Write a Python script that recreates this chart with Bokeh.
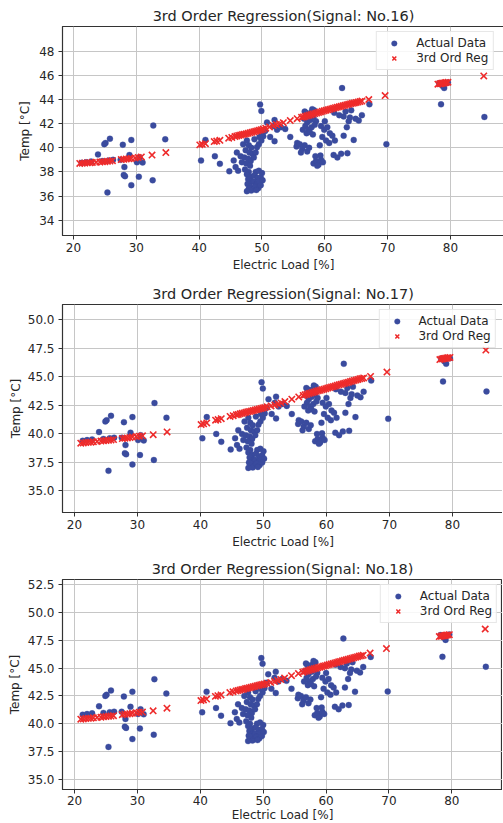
from bokeh.plotting import figure
from bokeh.layouts import column
from bokeh.models import Range1d, FixedTicker, PrintfTickFormatter
from bokeh.embed import file_html
from bokeh.resources import INLINE

# ---------------- data ----------------
load = [21.3, 22.0, 22.8, 23.9, 24.9, 25.1, 25.8, 25.4, 24.6, 25.6,
        26.3, 27.85, 28.1, 28.0, 28.2, 28.9, 29.2, 29.2, 30.1, 31.0,
        30.4, 32.6, 32.7, 34.6, 27.5, 30.5,
        40.3, 41.0, 42.5, 43.3, 44.8, 45.5, 45.8, 46.2, 46.0, 46.6,
        47.0, 47.6, 47.9, 48.3, 47.4, 48.0, 48.5, 47.2, 47.8, 48.2,
        46.8, 47.5, 48.1, 47.3, 47.9, 47.6, 48.2, 47.8, 48.4, 47.7,
        48.1, 47.9, 48.3, 47.6,
        49.0, 49.5, 50.0, 48.8, 49.3, 49.8, 48.7, 49.2, 49.6, 50.1,
        48.9, 49.4, 49.8, 49.1, 49.0, 49.2, 49.5, 49.9, 50.2, 50.0,
        48.7, 49.7, 49.9, 50.8, 51.3, 52.0, 52.0, 52.4, 53.0, 53.7,
        54.5, 55.6, 50.5,
        56.8, 57.3, 57.8, 58.3, 56.7, 57.2, 57.7, 58.2, 58.6, 56.9,
        57.4, 57.9, 58.4, 57.1, 57.6, 58.1, 55.5, 56.0, 56.4, 56.8,
        57.2, 57.5, 56.2, 58.2, 58.6, 59.0, 59.4, 58.8, 59.7, 59.3,
        58.5, 59.4, 59.9, 60.4, 60.8, 59.6, 60.2, 60.7, 59.2, 61.2,
        61.6, 60.0, 61.4, 62.0, 62.6, 63.0, 63.5, 64.6, 62.75, 64.2,
        64.9, 65.4, 65.9, 67.1, 69.8, 63.0, 63.8, 61.5, 62.3, 64.0,
        78.2, 78.7, 79.0, 78.5, 85.4, 79.6,
        63.6, 63.3, 57.0, 58.0, 56.5, 48.8, 49.6, 51.8]

temp16 = [38.75, 38.80, 38.86, 39.45, 40.30, 40.40, 40.75, 36.30, 38.90, 38.95,
          39.00, 40.25, 38.40, 37.75, 37.65, 39.40, 40.65, 36.90, 38.80, 38.78,
          37.60, 37.30, 41.84, 40.70, 39.00, 39.20,
          38.94, 40.65, 39.30, 38.67, 38.05, 38.95, 38.40, 38.10, 39.60, 39.30,
          40.30, 40.60, 40.20, 40.00, 39.80, 39.60, 39.50, 39.20, 39.10, 38.90,
          38.80, 38.70, 38.50, 38.20, 38.00, 37.80, 37.60, 37.40, 37.20, 37.00,
          36.80, 36.60, 36.45, 36.40,
          38.00, 38.10, 37.90, 37.70, 37.50, 37.55, 37.20, 37.00, 37.20, 37.30,
          36.80, 36.65, 36.90, 36.50, 39.60, 40.05, 40.30, 40.60, 40.95, 41.15,
          39.20, 43.58, 43.05, 42.10, 40.90, 40.55, 42.30, 41.50, 41.70, 41.55,
          40.90, 40.40, 41.40,
          43.00, 42.70, 42.90, 43.10, 42.40, 42.10, 42.30, 42.50, 42.20, 41.80,
          41.50, 41.70, 41.90, 41.20, 41.30, 41.10, 40.10, 40.30, 39.90, 40.20,
          39.70, 40.00, 39.60, 38.70, 38.90, 38.60, 39.00, 38.50, 38.80, 39.35,
          39.30, 41.80, 41.50, 41.70, 41.20, 40.90, 40.60, 40.40, 40.20, 41.00,
          40.60, 42.20, 39.40, 39.20, 39.50, 41.00, 41.70, 40.65, 44.95, 43.10,
          42.40, 42.25, 42.70, 43.60, 40.30, 42.60, 42.20, 42.90, 42.70, 42.50,
          45.35, 45.15, 44.95, 43.60, 42.55, 45.40,
          39.55, 43.00, 42.90, 43.20, 41.50, 40.70, 40.90, 41.80]

temp17 = [39.38, 39.44, 39.50, 40.14, 41.07, 41.18, 41.56, 36.75, 39.54, 39.60,
          39.65, 41.01, 39.00, 38.29, 38.19, 40.09, 41.45, 37.30, 39.44, 39.41,
          38.13, 37.70, 42.68, 41.40, 39.65, 39.87,
          39.59, 41.45, 39.98, 39.29, 38.62, 39.60, 39.00, 38.68, 40.31, 39.98,
          41.07, 41.39, 40.96, 40.74, 40.52, 40.31, 40.20, 39.87, 39.76, 39.54,
          39.44, 39.33, 39.11, 38.78, 38.57, 38.35, 38.13, 37.91, 37.70, 37.48,
          37.40, 37.20, 37.05, 37.00,
          38.57, 38.68, 38.46, 38.24, 38.02, 38.08, 37.70, 37.48, 37.70, 37.81,
          37.40, 37.25, 37.47, 37.09, 40.31, 40.79, 41.07, 41.39, 41.77, 41.99,
          39.87, 44.50, 43.95, 43.02, 41.72, 41.34, 43.24, 42.37, 42.59, 42.43,
          41.72, 41.18, 42.26,
          44.00, 43.68, 43.89, 44.11, 43.35, 43.02, 43.24, 43.46, 43.13, 42.70,
          42.37, 42.59, 42.81, 42.04, 42.15, 41.94, 40.85, 41.07, 40.63, 40.96,
          40.41, 40.74, 40.31, 39.33, 39.54, 39.22, 39.65, 39.11, 39.44, 40.03,
          39.98, 42.70, 42.37, 42.59, 42.04, 41.72, 41.39, 41.18, 40.96, 41.83,
          41.39, 43.13, 40.09, 39.87, 40.20, 41.83, 42.59, 41.45, 46.12, 44.11,
          43.35, 43.19, 43.68, 44.65, 41.30, 43.57, 43.13, 43.89, 43.68, 43.46,
          46.56, 46.34, 46.12, 44.57, 43.70, 46.61,
          40.25, 44.00, 43.89, 44.22, 42.37, 41.50, 41.72, 42.70]

temp18 = [40.80, 40.86, 40.92, 41.56, 42.49, 42.60, 42.98, 37.90, 40.96, 41.02,
          41.07, 42.43, 40.42, 39.71, 39.61, 41.51, 42.87, 38.60, 40.86, 40.83,
          39.55, 39.00, 44.00, 42.70, 41.07, 41.29,
          41.01, 42.87, 41.40, 40.71, 40.04, 41.02, 40.42, 40.10, 41.73, 41.40,
          42.49, 42.81, 42.38, 42.16, 41.94, 41.73, 41.62, 41.29, 41.18, 40.96,
          40.86, 40.75, 40.53, 40.20, 39.99, 39.77, 39.55, 39.33, 39.12, 38.90,
          38.82, 38.62, 38.47, 38.42,
          39.99, 40.10, 39.88, 39.66, 39.44, 39.50, 39.12, 38.90, 39.12, 39.23,
          38.82, 38.67, 38.89, 38.51, 41.73, 42.21, 42.49, 42.81, 43.19, 43.41,
          41.29, 45.90, 45.40, 44.44, 43.14, 42.76, 44.66, 43.79, 44.01, 43.85,
          43.14, 42.60, 43.68,
          45.42, 45.10, 45.31, 45.53, 44.77, 44.44, 44.66, 44.88, 44.55, 44.12,
          43.79, 44.01, 44.23, 43.46, 43.57, 43.36, 42.27, 42.49, 42.05, 42.38,
          41.83, 42.16, 41.73, 40.75, 40.96, 40.64, 41.07, 40.53, 40.86, 41.45,
          41.40, 44.12, 43.79, 44.01, 43.46, 43.14, 42.81, 42.60, 42.38, 43.25,
          42.81, 44.55, 41.51, 41.29, 41.62, 43.25, 44.01, 42.87, 47.66, 45.53,
          44.77, 44.61, 45.10, 46.00, 42.89, 44.99, 44.55, 45.31, 45.10, 44.88,
          47.98, 47.76, 47.54, 46.01, 45.12, 48.03,
          41.67, 45.42, 45.31, 45.64, 43.79, 42.92, 43.14, 44.12]

reg_load = [21.0, 21.4, 21.8, 22.2, 22.6, 23.0, 23.6, 24.2, 24.6, 25.0,
            25.4, 25.8, 26.2, 27.6, 28.0, 28.4, 28.8, 29.2, 29.8, 30.3,
            30.8, 32.5, 34.7,
            40.1, 40.5, 41.0, 42.4, 42.8, 43.3, 44.7, 45.2, 45.7, 46.0,
            46.3, 46.6, 46.9, 47.2, 47.5, 47.8, 48.1, 48.4, 48.7, 49.0,
            49.3, 49.6, 49.9, 50.2, 50.6, 51.2, 51.8, 52.3, 52.8, 53.4,
            54.5, 55.6,
            56.3, 56.6, 56.9, 57.2, 57.5, 57.8, 58.1, 58.4, 58.7, 59.0,
            59.3, 59.6, 59.9, 60.2, 60.5, 60.8, 61.1, 61.4, 61.7, 62.0,
            62.3, 62.6, 62.9, 63.2, 63.5, 63.8, 64.1, 64.4, 64.7, 65.0,
            65.3, 65.6, 65.9, 67.0, 69.6,
            78.0, 78.3, 78.5, 78.7, 78.9, 79.1, 79.3, 79.6, 85.3]

reg16 = [38.70, 38.72, 38.73, 38.75, 38.76, 38.78, 38.80, 38.82, 38.84, 38.85,
         38.88, 38.90, 38.93, 39.02, 39.04, 39.07, 39.09, 39.12, 39.16, 39.20,
         39.24, 39.40, 39.60,
         40.24, 40.29, 40.34, 40.51, 40.56, 40.62, 40.79, 40.86, 40.93, 40.98,
         41.02, 41.05, 41.09, 41.13, 41.16, 41.20, 41.24, 41.28, 41.32, 41.37,
         41.41, 41.46, 41.50, 41.55, 41.62, 41.73, 41.84, 41.92, 41.99, 42.08,
         42.25, 42.41,
         42.52, 42.56, 42.61, 42.65, 42.70, 42.74, 42.79, 42.83, 42.88, 42.93,
         42.97, 43.02, 43.06, 43.11, 43.15, 43.19, 43.23, 43.28, 43.32, 43.36,
         43.40, 43.44, 43.48, 43.52, 43.56, 43.60, 43.64, 43.68, 43.72, 43.76,
         43.79, 43.83, 43.87, 44.00, 44.33,
         45.27, 45.30, 45.32, 45.34, 45.36, 45.38, 45.40, 45.43, 45.95]

reg17 = [39.17, 39.19, 39.22, 39.24, 39.26, 39.29, 39.32, 39.35, 39.38, 39.40,
         39.42, 39.45, 39.48, 39.57, 39.60, 39.63, 39.66, 39.70, 39.75, 39.78,
         39.81, 39.91, 40.15,
         40.80, 40.86, 40.94, 41.18, 41.24, 41.31, 41.51, 41.58, 41.65, 41.69,
         41.74, 41.78, 41.82, 41.87, 41.91, 41.95, 41.99, 42.04, 42.08, 42.12,
         42.17, 42.21, 42.25, 42.29, 42.35, 42.43, 42.52, 42.60, 42.69, 42.81,
         43.02, 43.22,
         43.35, 43.40, 43.45, 43.51, 43.56, 43.61, 43.66, 43.71, 43.76, 43.80,
         43.85, 43.90, 43.94, 43.99, 44.04, 44.09, 44.13, 44.18, 44.23, 44.28,
         44.32, 44.37, 44.42, 44.47, 44.51, 44.56, 44.61, 44.66, 44.70, 44.75,
         44.80, 44.84, 44.88, 45.01, 45.39,
         46.49, 46.53, 46.56, 46.58, 46.60, 46.63, 46.65, 46.68, 47.32]

reg18 = [40.40, 40.42, 40.45, 40.47, 40.49, 40.52, 40.55, 40.58, 40.61, 40.63,
         40.65, 40.68, 40.71, 40.80, 40.83, 40.86, 40.89, 40.93, 40.98, 41.01,
         41.04, 41.15, 41.39,
         42.07, 42.13, 42.21, 42.45, 42.51, 42.58, 42.79, 42.86, 42.93, 42.97,
         43.02, 43.06, 43.10, 43.15, 43.19, 43.23, 43.27, 43.32, 43.36, 43.40,
         43.45, 43.49, 43.53, 43.57, 43.63, 43.71, 43.80, 43.89, 43.98, 44.10,
         44.31, 44.51,
         44.63, 44.68, 44.73, 44.79, 44.84, 44.89, 44.94, 44.99, 45.04, 45.08,
         45.13, 45.18, 45.22, 45.27, 45.32, 45.37, 45.41, 45.46, 45.51, 45.56,
         45.60, 45.65, 45.70, 45.75, 45.79, 45.84, 45.89, 45.94, 45.98, 46.03,
         46.08, 46.12, 46.16, 46.35, 46.76,
         47.84, 47.87, 47.89, 47.91, 47.93, 47.96, 47.98, 48.01, 48.52]

x_ticks = [20, 30, 40, 50, 60, 70, 80]
y_ticks16 = [34, 36, 38, 40, 42, 44, 46, 48]
y_ticks17 = [35.0, 37.5, 40.0, 42.5, 45.0, 47.5, 50.0]
y_ticks18 = [35.0, 37.5, 40.0, 42.5, 45.0, 47.5, 50.0, 52.5]

FONT = "DejaVu Sans"
BLUE = "#3a4b9e"
RED = "#ee2b2b"
TXT = "#262626"


def panel(title, temps, regs, xr, yr, yticks, fmt, fw, fh,
          b_left, b_right, b_top, b_bottom, lab_so, axl_so, xlab_so, xaxl_so):
    p = figure(title=title, x_range=Range1d(*xr), y_range=Range1d(*yr),
               frame_width=fw, frame_height=fh,
               min_border_left=b_left, min_border_right=b_right,
               min_border_top=b_top, min_border_bottom=b_bottom,
               output_backend="svg", toolbar_location=None)
    p.scatter(load, temps, marker="circle", size=6, fill_color=BLUE,
              line_color=BLUE, line_width=0.3, legend_label="Actual Data")
    p.scatter(reg_load, regs, marker="x", size=9, line_color=RED,
              line_width=1.6, legend_label="3rd Ord Reg")

    p.title.text_font = FONT
    p.title.text_font_size = "14.5px"
    p.title.text_font_style = "normal"
    p.title.text_color = TXT
    p.title.align = "center"
    p.title.standoff = 5

    p.xaxis.ticker = FixedTicker(ticks=x_ticks)
    p.yaxis.ticker = FixedTicker(ticks=yticks)
    p.yaxis.formatter = PrintfTickFormatter(format=fmt)
    p.xaxis.axis_label = "Electric Load [%]"
    p.yaxis.axis_label = "Temp [°C]"
    for ax in (p.xaxis, p.yaxis):
        ax.axis_label_text_font = FONT
        ax.axis_label_text_font_size = "12px"
        ax.axis_label_text_font_style = "normal"
        ax.axis_label_text_color = TXT
        ax.major_label_text_font = FONT
        ax.major_label_text_font_size = "12px"
        ax.major_label_text_color = TXT
        ax.major_tick_out = 4
        ax.major_tick_in = 0
        ax.minor_tick_line_color = None
        ax.major_tick_line_color = "#333333"
        ax.axis_line_color = "#333333"
    p.xaxis.major_label_standoff = xlab_so
    p.xaxis.axis_label_standoff = xaxl_so
    p.yaxis.major_label_standoff = lab_so
    p.yaxis.axis_label_standoff = axl_so

    p.grid.grid_line_color = "#c6c6c6"
    p.grid.grid_line_width = 1
    p.outline_line_color = "#333333"
    p.outline_line_width = 1.2
    p.background_fill_color = "white"
    p.border_fill_color = "white"

    lg = p.legend[0]
    lg.location = "top_right"
    lg.margin = 5
    lg.padding = 4
    lg.spacing = 1
    lg.glyph_width = 26
    lg.glyph_height = 14
    lg.label_height = 14
    lg.label_standoff = 9
    lg.label_text_font = FONT
    lg.label_text_font_size = "12px"
    lg.label_text_color = TXT
    lg.border_line_color = "#d0d0d0"
    lg.border_line_width = 1
    lg.background_fill_alpha = 0.85
    return p


p1 = panel("3rd Order Regression(Signal: No.16)", temp16, reg16,
           (18.25, 88.6), (32.73, 50.05), y_ticks16, "%d",
           442, 209, 59, 2, 26, 45, 4, 4, 3, 3)
p2 = panel("3rd Order Regression(Signal: No.17)", temp17, reg17,
           (18.1, 88.1), (33.1, 51.31), y_ticks17, "%.1f",
           441, 208, 61, 0, 24, 43, 4, 2, 3, 3)
p3 = panel("3rd Order Regression(Signal: No.18)", temp18, reg18,
           (18.09, 88.05), (34.06, 52.98), y_ticks18, "%.1f",
           440, 210, 62, 0, 24, 34, 4, 3, 2, 0)

layout = column(p1, p2, p3, spacing=0)
html = file_html(layout, INLINE)
html = html.replace("<head>", "<head><style>html,body{margin:0 !important;padding:0;overflow:hidden;}</style>", 1)
open("out.html", "w").write(html)
